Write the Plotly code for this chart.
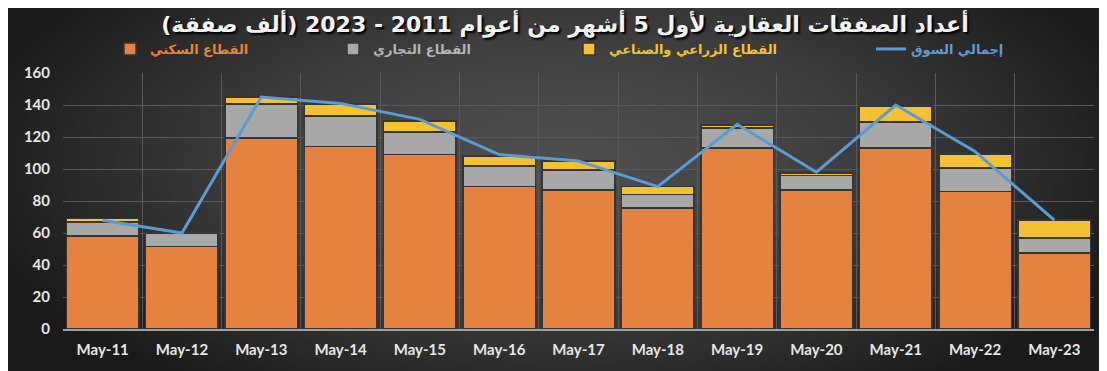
import base64
import struct
import zlib

import plotly.graph_objects as go

# ---------------- data ----------------
months = ["May-11", "May-12", "May-13", "May-14", "May-15", "May-16", "May-17",
          "May-18", "May-19", "May-20", "May-21", "May-22", "May-23"]
residential = [58, 51.5, 119.5, 114, 109, 89, 87, 75.5, 113, 87, 113, 86, 47.5]
commercial = [9, 8.5, 21, 19, 14, 13, 12.5, 8.5, 12.5, 9, 16.5, 14.5, 9.5]
agri_industrial = [2, 0.5, 4.5, 7.5, 7, 6, 5.5, 5, 2, 1.5, 10, 9, 11]
market_total = [68, 60, 145, 141, 131, 109, 105, 89, 128, 98, 140, 111, 68]

name_res = "القطاع السكني"
name_com = "القطاع التجاري"
name_agr = "القطاع الزراعي والصناعي"
name_tot = "إجمالي السوق"
title_text = "أعداد الصفقات العقارية لأول 5 أشهر من أعوام 2011 - 2023 (ألف صفقة)"

# ---------------- layout constants ----------------
OFF = 8  # page body margin offset
W, H = 1107, 371
ML, MT, PW, PH = 55, 65, 1031, 256
MR, MB = W - ML - PW, H - MT - PH

C_RES = "#e5823f"
C_COM = "#a8a8a8"
C_AGR = "#f4c133"
C_TOT = "#5b9bd5"


# ---------------- background gradient image ----------------
def make_png(w, h):
    rows = []
    for j in range(h):
        row = bytearray([0])
        for i in range(w):
            dx = (i / (w - 1) - 0.5) / 0.55
            dy = (j / (h - 1) - 0.42) / 0.75
            d = min(1.0, (dx * dx + dy * dy) ** 0.5)
            v = int(78 - 52 * d ** 1.6)
            row += bytes([v, v, v])
        rows.append(bytes(row))
    raw = b"".join(rows)

    def chunk(t, data):
        c = struct.pack(">I", len(data)) + t + data
        return c + struct.pack(">I", zlib.crc32(t + data) & 0xFFFFFFFF)

    png = b"\x89PNG\r\n\x1a\n"
    png += chunk(b"IHDR", struct.pack(">IIBBBBB", w, h, 8, 2, 0, 0, 0))
    png += chunk(b"IDAT", zlib.compress(raw, 9))
    png += chunk(b"IEND", b"")
    return "data:image/png;base64," + base64.b64encode(png).decode()


bg_src = make_png(222, 74)

AR_FONT = "DejaVu Sans"
TICK_FONT = "Lato"

fig = go.Figure()
bar_line = dict(color="#353535", width=1.5)
fig.add_trace(go.Bar(x=months, y=residential, name=name_res,
                     marker=dict(color=C_RES, line=bar_line), legend="legend"))
fig.add_trace(go.Bar(x=months, y=commercial, name=name_com,
                     marker=dict(color=C_COM, line=bar_line), legend="legend2"))
fig.add_trace(go.Bar(x=months, y=agri_industrial, name=name_agr,
                     marker=dict(color=C_AGR, line=bar_line), legend="legend3"))
fig.add_trace(go.Scatter(x=months, y=market_total, name=name_tot, mode="lines",
                         line=dict(color=C_TOT, width=3), legend="legend4"))


def leg(xwin, color):
    return dict(x=(xwin - OFF - ML) / PW, xanchor="left",
                y=(MT + PH - (49 - OFF)) / PH, yanchor="middle",
                bgcolor="rgba(0,0,0,0)", borderwidth=0,
                font=dict(family=AR_FONT, size=13, color=color, weight="bold"))


fig.update_layout(
    width=W, height=H,
    margin=dict(l=ML, r=MR, t=MT, b=MB),
    paper_bgcolor="#2a2a2a",
    plot_bgcolor="rgba(0,0,0,0)",
    barmode="stack",
    bargap=0.085,
    showlegend=True,
    legend=leg(110, C_RES),
    legend2=leg(333, "#b4b4b4"),
    legend3=leg(569, C_AGR),
    legend4=leg(871, C_TOT),
    title=dict(text=title_text, x=(565 - OFF) / W, xanchor="center",
               y=1 - 16 / H, yanchor="middle", pad=dict(t=0, b=0),
               font=dict(family=AR_FONT, size=22, color="#f2f2f2", weight="bold",
                         shadow="2px 2px 2px #000000")),
    xaxis=dict(
        type="category", tickson="boundaries", showgrid=True,
        gridcolor="#595959", gridwidth=1, ticks="", showline=True,
        linecolor="#a0a0a0", linewidth=1.5, range=[-0.5, 12.5],
        ticklabelstandoff=6,
        tickfont=dict(family=TICK_FONT, size=15, color="#e6e6e6", weight="bold"),
        fixedrange=True,
    ),
    yaxis=dict(
        range=[0, 160], dtick=20, showgrid=True, gridcolor="#595959",
        gridwidth=1, zeroline=False, ticks="", ticklabelstandoff=12,
        tickfont=dict(family=TICK_FONT, size=15, color="#e6e6e6", weight="bold"),
        fixedrange=True,
    ),
    images=[dict(source=bg_src, xref="paper", yref="paper",
                 x=-ML / PW, y=1 + MT / PH, sizex=W / PW, sizey=H / PH,
                 xanchor="left", yanchor="top", sizing="stretch",
                 layer="below")],
)

fig.write_html("out.html")
